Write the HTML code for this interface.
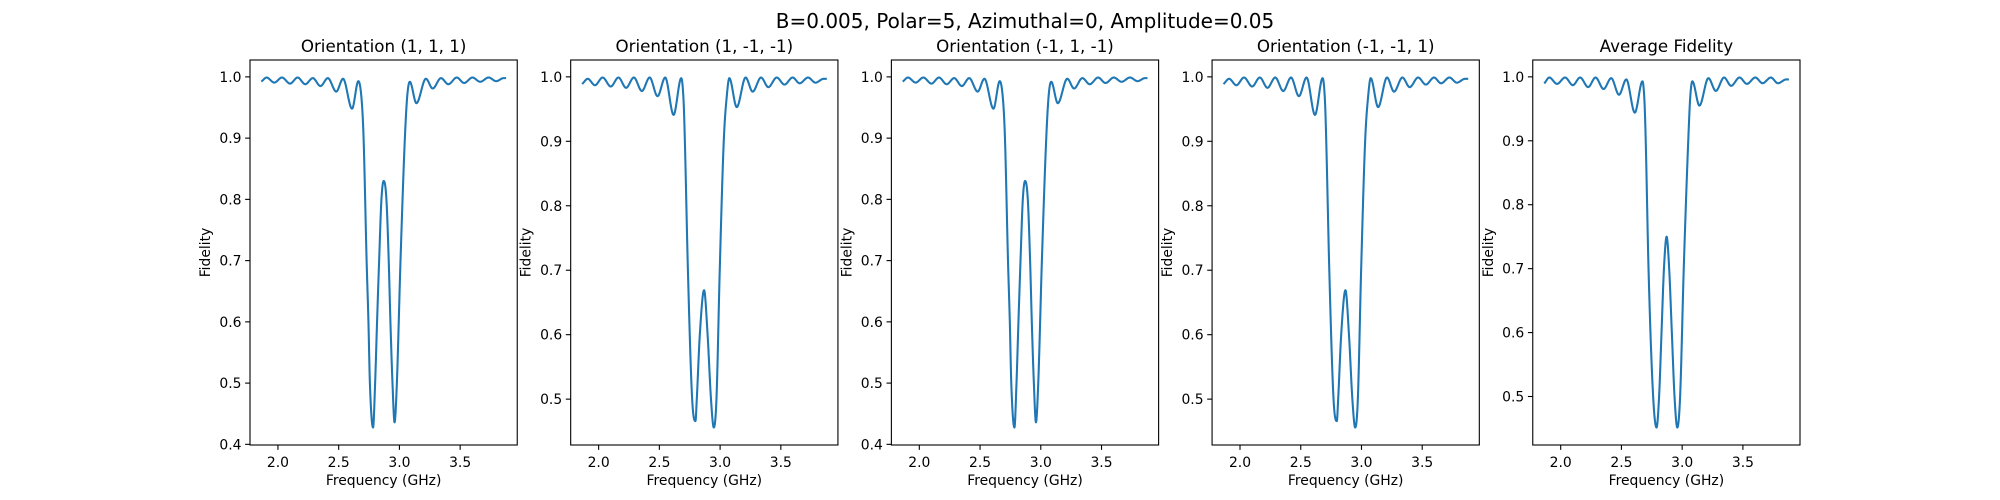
<!DOCTYPE html>
<html><head><meta charset="utf-8">
<style>
html,body{margin:0;padding:0;background:#fff;}
svg{display:block;font-family:"DejaVu Sans","Liberation Sans",sans-serif;}
</style></head>
<body>
<svg id="fig" width="2000" height="500" viewBox="0 0 2000 500" xmlns="http://www.w3.org/2000/svg">
<rect width="2000" height="500" fill="#fff"/>
<text x="1025" y="28" text-anchor="middle" font-size="20" fill="#000">B=0.005, Polar=5, Azimuthal=0, Amplitude=0.05</text>
</svg>
<script>
// ---- data ----
const titles = ["Orientation (1, 1, 1)", "Orientation (1, -1, -1)", "Orientation (-1, 1, -1)", "Orientation (-1, -1, 1)", "Average Fidelity"];
const xTicks = [2.0, 2.5, 3.0, 3.5];
const yTicks1 = [0.4, 0.5, 0.6, 0.7, 0.8, 0.9, 1.0];
const yTicks2 = [0.5, 0.6, 0.7, 0.8, 0.9, 1.0];
const freqA = [1.87,1.906,1.97,2.033,2.10,2.162,2.225,2.287,2.35,2.411,2.48,2.536,2.61,2.662,2.69,2.705,2.73,2.745,2.757,2.783,2.80,2.816,2.833,2.852,2.871,2.893,2.912,2.926,2.943,2.96,2.979,3.009,3.045,3.065,3.086,3.14,3.218,3.274,3.342,3.403,3.472,3.533,3.601,3.665,3.734,3.797,3.858,3.87];
const fidA  = [0.9935,0.999,0.9907,0.999,0.989,0.999,0.988,0.998,0.985,0.998,0.976,0.997,0.948,0.993,0.96,0.90,0.70,0.60,0.50,0.4275,0.50,0.60,0.70,0.80,0.83,0.80,0.70,0.60,0.50,0.436,0.50,0.70,0.90,0.97,0.992,0.957,0.997,0.981,0.998,0.988,0.999,0.990,0.999,0.992,0.999,0.993,0.998,0.998];
const freqB = [1.87,1.91,1.97,2.033,2.10,2.163,2.226,2.29,2.356,2.42,2.485,2.548,2.617,2.68,2.70,2.71,2.735,2.77,2.797,2.808,2.833,2.868,2.897,2.925,2.948,2.97,2.997,3.03,3.055,3.076,3.137,3.21,3.268,3.337,3.397,3.466,3.53,3.597,3.655,3.724,3.785,3.853,3.87];
const fidB  = [0.990,0.997,0.987,0.999,0.985,0.999,0.983,0.999,0.978,0.999,0.970,0.999,0.941,0.998,0.96,0.90,0.70,0.50,0.466,0.50,0.60,0.669,0.60,0.50,0.456,0.50,0.70,0.90,0.97,0.998,0.953,0.999,0.977,0.999,0.984,0.999,0.988,0.999,0.990,0.999,0.991,0.997,0.997];
const freqC = [1.87,1.906,1.97,2.036,2.10,2.16,2.226,2.287,2.353,2.416,2.48,2.54,2.61,2.673,2.69,2.70,2.723,2.761,2.789,2.81,2.83,2.85,2.872,2.893,2.915,2.937,2.96,2.983,3.013,3.05,3.067,3.084,3.142,3.216,3.277,3.345,3.403,3.472,3.533,3.602,3.662,3.73,3.788,3.857,3.87];
const fidC  = [0.991,0.999,0.989,0.999,0.987,0.999,0.984,0.999,0.981,0.998,0.972,0.996,0.944,0.993,0.96,0.90,0.70,0.50,0.4515,0.50,0.60,0.70,0.75,0.70,0.60,0.50,0.4515,0.50,0.70,0.90,0.97,0.993,0.955,0.998,0.978,0.999,0.986,0.999,0.989,0.999,0.990,0.999,0.990,0.996,0.996];
const seriesX = [freqA, freqB, freqA, freqB, freqC];
const seriesY = [fidA, fidB, fidA, fidB, fidC];
const yTickSets = [yTicks1, yTicks2, yTicks1, yTicks2, yTicks2];

(function(){
const NS = "http://www.w3.org/2000/svg";
const svg = document.getElementById("fig");
const axW = 267.24, gap = 53.45, axTop = 60, axBottom = 445;
function mk(tag, attrs, parent){ const e=document.createElementNS(NS,tag); for(const k in attrs) e.setAttribute(k,attrs[k]); (parent||svg).appendChild(e); return e; }

function monotone(xs, ys){
  const n=xs.length, d=[], m=new Array(n);
  for(let i=0;i<n-1;i++) d.push((ys[i+1]-ys[i])/(xs[i+1]-xs[i]));
  m[0]=d[0]; m[n-1]=d[n-2];
  for(let i=1;i<n-1;i++){ m[i]=(d[i-1]*d[i]<=0)?0:(d[i-1]+d[i])/2; }
  for(let i=0;i<n-1;i++){
    if(d[i]===0){m[i]=0;m[i+1]=0;continue;}
    const a=m[i]/d[i], b=m[i+1]/d[i], s=a*a+b*b;
    if(s>9){const t=3/Math.sqrt(s); m[i]=t*a*d[i]; m[i+1]=t*b*d[i];}
  }
  const out=[];
  for(let i=0;i<n-1;i++){
    const h=xs[i+1]-xs[i];
    for(let k=0;k<16;k++){
      const t=k/16, t2=t*t, t3=t2*t;
      const y=(2*t3-3*t2+1)*ys[i]+(t3-2*t2+t)*h*m[i]+(-2*t3+3*t2)*ys[i+1]+(t3-t2)*h*m[i+1];
      out.push([xs[i]+t*h,y]);
    }
  }
  out.push([xs[n-1],ys[n-1]]);
  return out;
}

for(let p=0;p<5;p++){
  const left = 250 + p*(axW+gap), right = left+axW;
  const xs = seriesX[p], ys = seriesY[p];
  const xmin=Math.min(...xs), xmax=Math.max(...xs), ymin=Math.min(...ys), ymax=Math.max(...ys);
  const x0=xmin-0.05*(xmax-xmin), x1=xmax+0.05*(xmax-xmin);
  const y0=ymin-0.05*(ymax-ymin), y1=ymax+0.05*(ymax-ymin);
  const sx=v=>left+(v-x0)/(x1-x0)*axW;
  const sy=v=>axBottom-(v-y0)/(y1-y0)*(axBottom-axTop);
  const g = mk("g",{});
  
  

  const pts = monotone(xs, ys).map(q=>sx(q[0]).toFixed(2)+","+sy(q[1]).toFixed(2)).join(" ");
  const line = mk("polyline",{points:pts,fill:"none",stroke:"#1f77b4","stroke-width":2.08,"stroke-linejoin":"round","stroke-linecap":"square"},g);
  
  

  const frame = mk("rect",{x:left,y:axTop,width:axW,height:axBottom-axTop,fill:"none",stroke:"#000","stroke-width":1.1},g);
  
  

  xTicks.forEach(t=>{
    const X=sx(t);
    mk("line",{x1:X,x2:X,y1:axBottom,y2:axBottom+4.86,stroke:"#000","stroke-width":1.1},g);
    const tx = mk("text",{x:X,y:axBottom+22,"text-anchor":"middle","font-size":13.9,fill:"#000"},g);
    tx.textContent=t.toFixed(1);
    
    
  });
  yTickSets[p].forEach(t=>{
    const Y=sy(t);
    mk("line",{x1:left-4.86,x2:left,y1:Y,y2:Y,stroke:"#000","stroke-width":1.1},g);
    const ty = mk("text",{x:left-8.5,y:Y+5,"text-anchor":"end","font-size":13.9,fill:"#000"},g);
    ty.textContent=t.toFixed(1);
    
    
  });
  const tt = mk("text",{x:(left+right)/2,y:axTop-8,"text-anchor":"middle","font-size":16.7,fill:"#000"},g);
  tt.textContent=titles[p];
  
  
  const xl = mk("text",{x:(left+right)/2,y:axBottom+40,"text-anchor":"middle","font-size":13.9,fill:"#000"},g);
  xl.textContent="Frequency (GHz)";
  
  
  const yc=(axTop+axBottom)/2, yx=left-40;
  const yl = mk("text",{x:yx,y:yc,"text-anchor":"middle","font-size":13.9,fill:"#000",transform:"rotate(-90 "+yx+" "+yc+")"},g);
  yl.textContent="Fidelity";
  
  
}
})();
</script>
</body></html>
